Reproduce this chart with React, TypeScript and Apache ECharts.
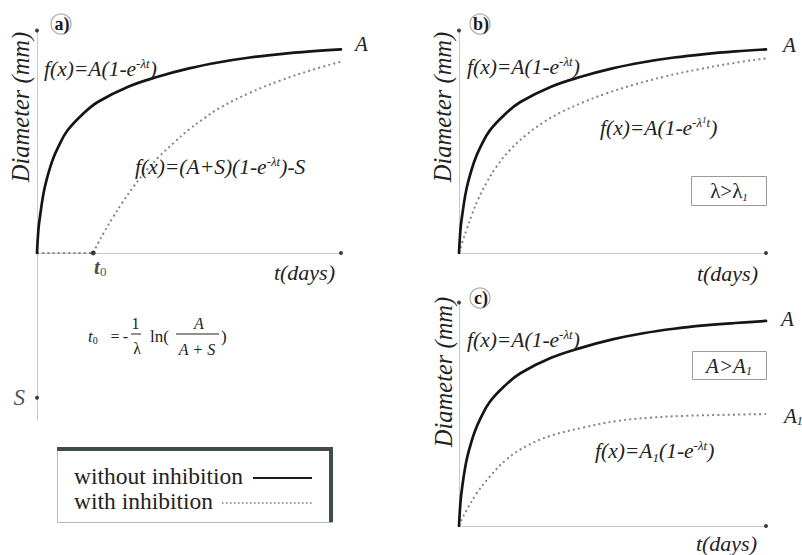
import { useEffect, useRef } from 'react';
import * as echarts from 'echarts';

const FONT = 'Liberation Serif, Times New Roman, DejaVu Serif, serif';
const INK = '#222222';
const AXIS = '#c6caca';

// ---------- data: t (days, 0..100 scale), diameter (0..100 where 100 = A) ----------
// Panel a
const aSolidT = [0, 0.5, 1, 2, 3, 5, 7, 10, 15, 20, 30, 40, 50, 60, 70, 80, 90, 100];
const aSolidD = [0, 12, 18, 28, 35, 45, 52, 60, 68, 74, 81.5, 86.5, 90.5, 93.5, 95.8, 97.5, 98.8, 99.8];
const aLagT = [0, 18.5];
const aLagD = [0, 0];
const aInhT = [18.5, 20, 22, 25, 28, 32, 36, 40, 45, 50, 55, 60, 70, 80, 90, 100];
const aInhD = [0, 4.5, 10, 17.5, 24.5, 33, 40.5, 47, 54, 60.5, 66, 71, 78.5, 84.5, 89.5, 93.8];
const t0Point = [18.5, 0];
const sPoint = [0, -71];
// Panel b
const bSolidT = [0, 0.5, 1, 2, 3, 5, 7, 10, 15, 20, 30, 40, 50, 60, 70, 80, 90, 100];
const bSolidD = [0, 12, 18, 28, 35, 45, 52, 60, 68, 74, 81.5, 86.5, 90.5, 93.5, 95.8, 97.5, 98.8, 99.8];
const bInhT = [0, 1, 2.5, 4.2, 6.3, 9, 12.3, 16.6, 22, 27.5, 33, 40, 48, 57, 67, 78, 89, 100];
const bInhD = [0, 5, 11.5, 18.7, 26.5, 34.5, 42.5, 50.5, 58, 64, 68.8, 73.6, 78.2, 82.5, 86.5, 90, 93, 95.4];
// Panel c
const cSolidT = [0, 0.5, 1, 2, 3, 5, 7, 10, 15, 20, 30, 40, 50, 60, 70, 80, 90, 100];
const cSolidD = [0, 12, 18.5, 28.5, 35.5, 45.5, 52.5, 60.5, 68.5, 74.5, 82, 87, 91, 94, 96.2, 97.8, 99, 100];
const cInhT = [0, 1, 2.5, 5.8, 10.1, 15.5, 22, 29.6, 40.5, 51.3, 62.2, 73.1, 89.4, 100];
const cInhD = [0, 3.5, 7.8, 16, 24.2, 32.5, 39, 43.9, 48, 51.2, 52.8, 53.7, 54.3, 54.6];
// axis extents
const tMax = 100;
const dMax = 109;
const dMinA = -82;

const zip = (xs: number[], ys: number[]) => xs.map((x, i) => [x, ys[i]]);

const solidStyle = { color: '#151515', width: 2.7, cap: 'round' as const };
const dotStyle = { color: '#858585', width: 2, type: [2, 3.2] as number[] };

function lineSeries(idx: number, data: number[][], style: any, extra: any = {}) {
  return {
    type: 'line',
    xAxisIndex: idx,
    yAxisIndex: idx,
    data,
    showSymbol: false,
    symbol: 'none',
    smooth: 0.4,
    lineStyle: style,
    silent: true,
    z: 3,
    ...extra,
  };
}

const endA = (dist: number, dy: number) => ({
  show: true,
  formatter: 'A',
  distance: dist,
  offset: [0, dy],
  fontFamily: FONT,
  fontStyle: 'italic',
  fontSize: 21,
  color: INK,
});

const fRich = {
  m: { fontFamily: FONT, fontStyle: 'italic', fontSize: 21.5, fill: INK, lineHeight: 25 },
  s: { fontFamily: FONT, fontStyle: 'italic', fontSize: 13, fill: INK, lineHeight: 13, verticalAlign: 'top' },
  s1: { fontFamily: FONT, fontStyle: 'italic', fontSize: 9, fill: INK, lineHeight: 17, verticalAlign: 'top' },
  sb: { fontFamily: FONT, fontStyle: 'italic', fontSize: 13, fill: INK, lineHeight: 14, verticalAlign: 'bottom' },
};

const rtext = (x: number, y: number, text: string, align = 'left') => ({
  type: 'text',
  x,
  y,
  z: 100,
  silent: true,
  style: { text, rich: fRich, align, verticalAlign: 'middle', fontFamily: FONT, fontSize: 21, fill: INK },
});

const ptext = (x: number, y: number, text: string, opts: any = {}) => ({
  type: 'text',
  x,
  y,
  z: 100,
  silent: true,
  style: {
    text,
    fontFamily: FONT,
    fontSize: 16,
    fill: INK,
    align: 'center',
    verticalAlign: 'middle',
    ...opts,
  },
});

const hline = (x1: number, x2: number, y: number, stroke = INK, lineWidth = 1, lineDash?: number[]) => ({
  type: 'line',
  z: 100,
  silent: true,
  shape: { x1, y1: y, x2, y2: y },
  style: { stroke, lineWidth, lineDash },
});

const panelLabel = (cx: number, cy: number, letter: string) => ({
  type: 'group',
  z: 100,
  children: [
    { type: 'circle', shape: { cx, cy, r: 10 }, style: { fill: 'none', stroke: '#a8a8a8', lineWidth: 1.2 } },
    {
      type: 'text',
      x: cx + 1,
      y: cy,
      style: { text: letter + ')', fontFamily: FONT, fontWeight: 'bold', fontSize: 18, fill: '#1a1a1a', align: 'center', verticalAlign: 'middle' },
    },
  ],
});

const yTitle = (x: number, y: number) => ({
  type: 'text',
  x,
  y,
  rotation: Math.PI / 2,
  z: 100,
  style: { text: 'Diameter (mm)', fontFamily: FONT, fontStyle: 'italic', fontSize: 24.5, fill: INK, align: 'center', verticalAlign: 'middle' },
});

const xTitle = (x: number, y: number) => ({
  type: 'text',
  x,
  y,
  z: 100,
  style: { text: 't(days)', fontFamily: FONT, fontStyle: 'italic', fontSize: 22, fill: INK, align: 'right', verticalAlign: 'middle' },
});

function axisPair(idx: number, min: number) {
  const common = {
    type: 'value',
    gridIndex: idx,
    axisTick: { show: false },
    axisLabel: { show: false },
    splitLine: { show: false },
    axisLine: { show: true, onZero: true, lineStyle: { color: AXIS, width: 1 } },
  };
  return {
    x: { ...common, min: 0, max: tMax },
    y: { ...common, min, max: dMax },
  };
}

export default function App() {
  const ref = useRef<HTMLDivElement>(null);
  useEffect(() => {
    if (!ref.current) return;
    const chart = echarts.init(ref.current, undefined, { renderer: 'svg' });
    const ax = [axisPair(0, dMinA), axisPair(1, 0), axisPair(2, 0)];
    const dotSeries = (idx: number) => ({
      type: 'scatter',
      xAxisIndex: idx,
      yAxisIndex: idx,
      data: [[tMax, 0], [0, dMax]],
      symbolSize: 4,
      itemStyle: { color: '#111' },
      silent: true,
      z: 4,
    });
    const option: any = {
      animation: false,
      backgroundColor: '#ffffff',
      textStyle: { fontFamily: FONT },
      grid: [
        { left: 37, width: 304, top: 30.6, height: 389.6, containLabel: false, outerBoundsMode: 'none' },
        { left: 459, width: 307, top: 30.6, height: 222.4, containLabel: false, outerBoundsMode: 'none' },
        { left: 459, width: 307, top: 302.5, height: 223.5, containLabel: false, outerBoundsMode: 'none' },
      ],
      xAxis: ax.map((a) => a.x),
      yAxis: ax.map((a) => a.y),
      series: [
        lineSeries(0, zip(aLagT, aLagD), dotStyle, { smooth: false }),
        lineSeries(0, zip(aInhT, aInhD), dotStyle),
        lineSeries(0, zip(aSolidT, aSolidD), solidStyle, { endLabel: endA(14, -5), z: 5 }),
        lineSeries(1, zip(bInhT, bInhD), dotStyle),
        lineSeries(1, zip(bSolidT, bSolidD), solidStyle, { endLabel: endA(17, -4), z: 5 }),
        lineSeries(2, zip(cInhT, cInhD), dotStyle, {
          endLabel: {
            show: true,
            formatter: '{a|A}{s|1}',
            distance: 18,
            offset: [0, 2],
            rich: {
              a: { fontFamily: FONT, fontStyle: 'italic', fontSize: 21, color: INK, lineHeight: 22 },
              s: { fontFamily: FONT, fontStyle: 'italic', fontSize: 12, color: INK, lineHeight: 12, verticalAlign: 'bottom' },
            },
          },
        }),
        lineSeries(2, zip(cSolidT, cSolidD), solidStyle, { endLabel: endA(15, -2), z: 5 }),
        dotSeries(0),
        dotSeries(1),
        dotSeries(2),
        {
          type: 'scatter',
          xAxisIndex: 0,
          yAxisIndex: 0,
          data: [t0Point],
          symbolSize: 5,
          itemStyle: { color: '#111' },
          silent: true,
          z: 6,
          label: {
            show: true,
            position: 'bottom',
            distance: 1,
            offset: [7, 0],
            formatter: '{t|t}{z|0}',
            rich: {
              t: { fontFamily: FONT, fontStyle: 'italic', fontWeight: 'bold', fontSize: 21, color: '#1a1a1a', lineHeight: 22 },
              z: { fontFamily: FONT, fontSize: 13, color: '#1a1a1a', lineHeight: 14, verticalAlign: 'bottom' },
            },
          },
        },
        {
          type: 'scatter',
          xAxisIndex: 0,
          yAxisIndex: 0,
          data: [sPoint],
          symbolSize: 4,
          itemStyle: { color: '#111' },
          silent: true,
          z: 6,
          label: {
            show: true,
            position: 'left',
            distance: 10,
            formatter: 'S',
            fontFamily: FONT,
            fontStyle: 'italic',
            fontSize: 23,
            color: INK,
          },
        },
      ],
      graphic: [
        panelLabel(61, 24, 'a'),
        panelLabel(480, 24, 'b'),
        panelLabel(480, 298, 'c'),
        yTitle(20, 107),
        yTitle(442, 107),
        yTitle(443, 372),
        xTitle(335, 272),
        xTitle(758, 273),
        xTitle(757, 543),
        rtext(44, 69, '{m|f(x)=A(1-e}{s|-λt}{m|)}'),
        rtext(135, 167, '{m|f(x)=(A+S)(1-e}{s|-λt}{m|)-S}'),
        rtext(467, 67, '{m|f(x)=A(1-e}{s|-λt}{m|)}'),
        rtext(600, 128, '{m|f(x)=A(1-e}{s|-λ}{s1|1}{s|t}{m|)}'),
        rtext(467, 340, '{m|f(x)=A(1-e}{s|-λt}{m|)}'),
        rtext(595, 451, '{m|f(x)=A}{sb|1}{m|(1-e}{s|-λt}{m|)}'),
        // condition boxes
        {
          type: 'rect',
          z: 100,
          shape: { x: 691.5, y: 176.5, width: 75, height: 29 },
          style: { fill: '#fff', stroke: '#9a9a9a', lineWidth: 1 },
        },
        {
          type: 'text',
          x: 729,
          y: 191,
          z: 101,
          style: {
            text: '{m|λ>λ}{s|1}',
            align: 'center',
            verticalAlign: 'middle',
            rich: {
              m: { fontFamily: FONT, fontSize: 21, fill: INK, lineHeight: 22 },
              s: { fontFamily: FONT, fontStyle: 'italic', fontSize: 11, fill: INK, lineHeight: 12, verticalAlign: 'bottom' },
            },
          },
        },
        {
          type: 'rect',
          z: 100,
          shape: { x: 692.5, y: 351.5, width: 74, height: 28 },
          style: { fill: '#fff', stroke: '#9a9a9a', lineWidth: 1 },
        },
        {
          type: 'text',
          x: 729,
          y: 366,
          z: 101,
          style: {
            text: '{m|A>A}{s|1}',
            align: 'center',
            verticalAlign: 'middle',
            rich: {
              m: { fontFamily: FONT, fontStyle: 'italic', fontSize: 21, fill: INK, lineHeight: 22 },
              s: { fontFamily: FONT, fontStyle: 'italic', fontSize: 12, fill: INK, lineHeight: 12, verticalAlign: 'bottom' },
            },
          },
        },
        // t0 formula
        ptext(88, 336, '{t|t}{z|0}', {
          align: 'left',
          rich: {
            t: { fontFamily: FONT, fontStyle: 'italic', fontSize: 17, fill: INK, lineHeight: 18 },
            z: { fontFamily: FONT, fontSize: 10, fill: INK, lineHeight: 10, verticalAlign: 'bottom' },
          },
        }),
        ptext(115, 336, '='),
        ptext(125.5, 336, '-'),
        ptext(135.5, 323, '1'),
        hline(131, 141, 334),
        ptext(137, 348, 'λ'),
        ptext(150, 336, 'ln(', { align: 'left', fontSize: 17 }),
        ptext(199, 323, 'A', { fontStyle: 'italic' }),
        hline(176, 219, 334),
        ptext(197, 349, 'A + S', { fontStyle: 'italic' }),
        ptext(221, 336, ')', { align: 'left', fontSize: 17 }),
        // legend box
        {
          type: 'rect',
          z: 100,
          shape: { x: 57.5, y: 447.5, width: 275, height: 75 },
          style: { fill: '#fff', stroke: '#b8b8b8', lineWidth: 1 },
        },
        { type: 'line', z: 101, shape: { x1: 57, y1: 449, x2: 333, y2: 449 }, style: { stroke: '#3f4c4c', lineWidth: 4 } },
        { type: 'line', z: 101, shape: { x1: 331, y1: 447, x2: 331, y2: 522 }, style: { stroke: '#3f4c4c', lineWidth: 4 } },
        ptext(74, 476, 'without inhibition', { align: 'left', fontSize: 23.5, fill: '#222' }),
        ptext(74, 501, 'with inhibition', { align: 'left', fontSize: 23.5, fill: '#222' }),
        hline(253, 312, 478, '#1a1a1a', 2),
        hline(222, 312, 503, '#7a7a7a', 1.5, [1.5, 2.5]),
      ],
    };
    chart.setOption(option);
    return () => chart.dispose();
  }, []);
  return (
    <div
      ref={ref}
      style={{ position: 'fixed', left: 0, top: 0, width: 802, height: 555, background: '#fff' }}
    />
  );
}
